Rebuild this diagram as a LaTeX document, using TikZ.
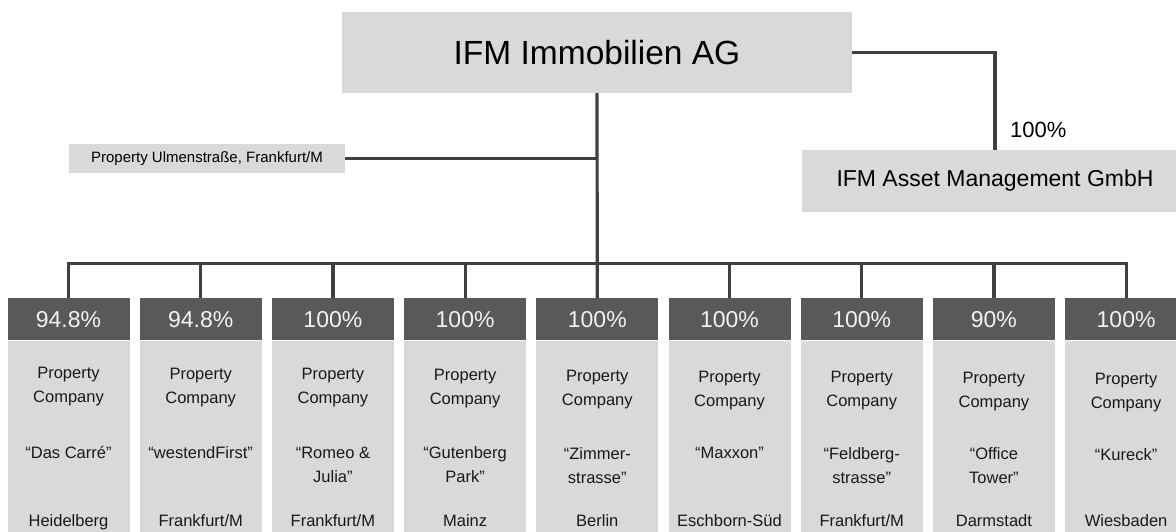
\documentclass[tikz,border=0pt]{standalone}
\usepackage{fontspec}
\setmainfont{Liberation Sans}
\usetikzlibrary{positioning}
\definecolor{boxgrey}{HTML}{D9D9D9}
\definecolor{headgrey}{HTML}{595959}
\definecolor{linegrey}{HTML}{404040}
\definecolor{headtext}{HTML}{F2F2F2}

\begin{document}
\begin{tikzpicture}[x=1pt,y=-1pt,
    greybox/.style={fill=boxgrey, inner sep=0pt, align=center},
    pcthead/.style={fill=headgrey, text=headtext, minimum width=122pt, minimum height=41.7pt, inner sep=0pt, font=\fontsize{23}{27}\selectfont},
    cobody/.style={fill=boxgrey, minimum width=122pt, minimum height=200pt, inner sep=0pt},
    cotext/.style={anchor=north, inner sep=0pt, align=center, text=black!90, font=\fontsize{16.5}{24}\selectfont},
    link/.style={draw=linegrey, line width=3.2pt}]
    \useasboundingbox (0,0) rectangle (1176,531);
    \clip (0,0) rectangle (1176,531);
    % holding and the two entities beside it
    \node[greybox, minimum width=510pt, minimum height=81pt, font=\fontsize{33.5}{40}\selectfont] (ifm) at (597,52.5) {IFM Immobilien AG};
    \node[greybox, minimum width=276pt, minimum height=28.7pt, font=\fontsize{15}{18}\selectfont] (ulmen) at (207,158.4) {Property Ulmenstraße, Frankfurt/M};
    \node[greybox, minimum width=386pt, minimum height=61.7pt, font=\fontsize{23}{27}\selectfont] (asset) at (995,180.9) {IFM Asset Management GmbH};
    \coordinate (bus) at (597,263.3);
    % property companies
    \foreach \i/\share/\cname/\city in {1/94.8\%/{“Das Carré”}/Heidelberg,
        2/94.8\%/{“westendFirst”}/{Frankfurt/M},
        3/100\%/{“Romeo \&\\Julia”}/{Frankfurt/M},
        4/100\%/{“Gutenberg\\Park”}/Mainz,
        5/100\%/{“Zimmer-\\strasse”}/Berlin,
        6/100\%/{“Maxxon”}/Eschborn-Süd,
        7/100\%/{“Feldberg-\\strasse”}/{Frankfurt/M},
        8/90\%/{“Office\\Tower”}/Darmstadt,
        9/100\%/{“Kureck”}/Wiesbaden}
    {
        \pgfmathsetmacro\cx{68.5+132.2*(\i-1)}
        \node[pcthead] (pct\i) at (\cx,319.2) {\share};
        \node[cobody, below=1pt of pct\i] (body\i) {};
        \node[cotext] (type\i) at (\cx,{367+0.7*(\i-1)}) {Property\\Company};
        \node[cotext] (name\i) at (\cx,{446+0.25*(\i-1)}) {\cname};
        \node[cotext] (city\i) at (\cx,514.5) {\city};
        \draw[link] (pct\i.north) -- (pct\i.north |- bus);
    }
    % connectors
    \draw[link] (pct1.north) |- (pct9.north |- bus) -- (pct9.north);
    \draw[link] (ifm.south) -- (pct5.north);
    \draw[link] (ulmen.east) -- (ulmen.east -| ifm.south);
    \draw[link] (ifm.east) -| (asset.north);
    \node[anchor=base west, inner sep=0pt, font=\fontsize{22}{26}\selectfont] (share) at ([xshift=15pt,yshift=12pt]asset.north) {100\%};
\end{tikzpicture}
\end{document}
